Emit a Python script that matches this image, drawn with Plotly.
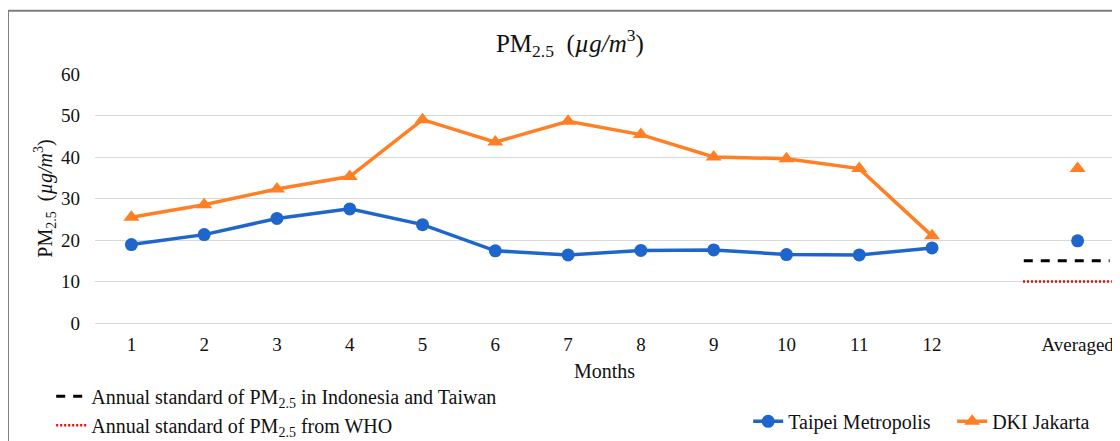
import plotly.graph_objects as go

# ---- data ----
months = ["1", "2", "3", "4", "5", "6", "7", "8", "9", "10", "11", "12"]
avg_label = "Averaged"
taipei = [18.9, 21.3, 25.2, 27.5, 23.7, 17.4, 16.4, 17.5, 17.6, 16.5, 16.4, 18.1]
jakarta = [25.5, 28.5, 32.3, 35.3, 49.0, 43.6, 48.6, 45.4, 40.0, 39.6, 37.2, 21.0]
taipei_avg = 19.8
jakarta_avg = 37.2
std_indo_taiwan = 15
std_who = 10

BLUE = "#1F66CC"
ORANGE = "#FF7F24"
FONT = "Liberation Serif"

month_pos = list(range(1, len(months) + 1))
avg_pos = len(months) + 2
tickvals = month_pos + [avg_pos]
ticktext = months + [avg_label]

fig = go.Figure()

fig.add_trace(go.Scatter(
    x=month_pos, y=taipei, mode="lines+markers", name="Taipei Metropolis",
    line=dict(color=BLUE, width=3.5),
    marker=dict(symbol="circle", size=13, color=BLUE),
    legend="legend",
))
fig.add_trace(go.Scatter(
    x=month_pos, y=jakarta, mode="lines+markers", name="DKI Jakarta",
    line=dict(color=ORANGE, width=3.5),
    marker=dict(symbol="triangle-up", size=14, color=ORANGE),
    legend="legend",
))
fig.add_trace(go.Scatter(
    x=[avg_pos], y=[taipei_avg], mode="markers", showlegend=False,
    marker=dict(symbol="circle", size=13, color=BLUE),
))
fig.add_trace(go.Scatter(
    x=[avg_pos], y=[jakarta_avg], mode="markers", showlegend=False,
    marker=dict(symbol="triangle-up", size=14, color=ORANGE),
))
fig.add_trace(go.Scatter(
    x=[avg_pos - 0.74, avg_pos + 0.44], y=[std_indo_taiwan, std_indo_taiwan],
    mode="lines", name="Annual standard of PM<sub>2.5</sub> in Indonesia and Taiwan",
    line=dict(color="black", width=3, dash="9px,8px"),
    legend="legend2",
))
fig.add_trace(go.Scatter(
    x=[avg_pos - 0.75, avg_pos + 0.47], y=[std_who, std_who],
    mode="lines", name="Annual standard of PM<sub>2.5</sub> from WHO",
    line=dict(color="#FF0000", width=2.5, dash="2px,2px"),
    legend="legend2",
))

fig.update_layout(
    width=1112, height=433,
    margin=dict(l=87, r=6, t=66, b=118, autoexpand=False),
    paper_bgcolor="white", plot_bgcolor="white",
    font=dict(family=FONT, size=20, color="#111111"),
    title=dict(
        text="PM<sub>2.5</sub>  (<i>µg/m</i><sup>3</sup>)",
        x=0.466, xref="paper", xanchor="center",
        y=0.919, yref="container", yanchor="middle",
        font=dict(family=FONT, size=25, color="#111111"),
    ),
    xaxis=dict(
        range=[0.5, avg_pos + 0.5], tickvals=tickvals, ticktext=ticktext,
        showgrid=False, zeroline=False, showline=False, ticks="",
        ticklabelstandoff=8, automargin=False, tickfont=dict(size=19),
        title=dict(text="Months", standoff=9, font=dict(size=20)),
    ),
    yaxis=dict(
        range=[0, 60], dtick=10, showgrid=True, gridcolor="#D9D9D9", gridwidth=1.3,
        zeroline=True, zerolinecolor="#D9D9D9", zerolinewidth=1.3,
        showline=False, ticks="", ticklabelstandoff=14, automargin=False,
        tickfont=dict(size=19),
        title=dict(text="PM<sub>2.5</sub>  (<i>µg/m</i><sup>3</sup>)", standoff=3,
                   font=dict(size=20)),
    ),
    legend=dict(
        orientation="h", x=0.641, xanchor="left", y=-0.395, yanchor="middle",
        bgcolor="rgba(0,0,0,0)", font=dict(family=FONT, size=20),
        itemwidth=30, tracegroupgap=0, entrywidth=159, entrywidthmode="pixels",
    ),
    legend2=dict(
        orientation="v", x=-0.043, xanchor="left", y=-0.216, yanchor="top",
        bgcolor="rgba(0,0,0,0)", font=dict(family=FONT, size=20),
        itemwidth=30, tracegroupgap=0,
    ),
    shapes=[dict(
        type="rect", xref="paper", yref="paper",
        x0=-0.0854, x1=1.1, y0=-0.7, y1=1.254,
        line=dict(color="#7F7F7F", width=2), fillcolor="rgba(0,0,0,0)", layer="below",
    )],
    showlegend=True,
)

fig.write_html("out.html")
